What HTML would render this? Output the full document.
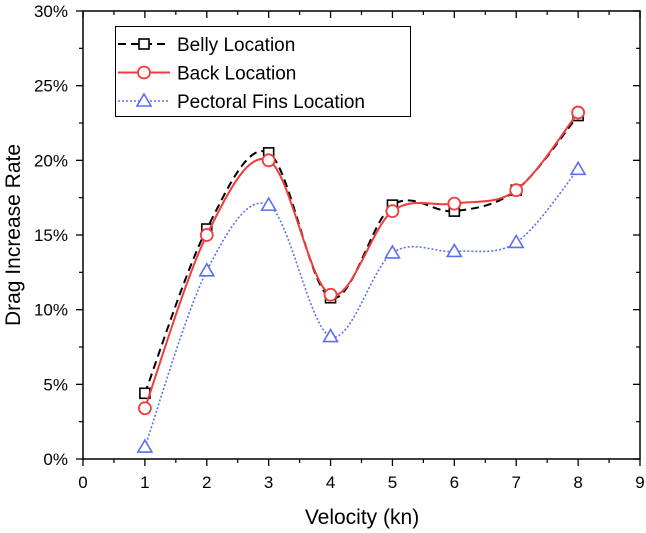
<!DOCTYPE html>
<html><head><meta charset="utf-8"><style>
html,body{margin:0;padding:0;background:#fff}
svg{display:block;font-family:"Liberation Sans",Arial,sans-serif}
</style></head><body>
<svg id="chart" width="646" height="533" viewBox="0 0 646 533" xmlns="http://www.w3.org/2000/svg">
<g id="axes"></g><g id="series"></g>
<text x="362" y="524" font-size="21" text-anchor="middle">Velocity (kn)</text>
<text transform="translate(20,235) rotate(-90)" font-size="21" text-anchor="middle">Drag Increase Rate</text>
<g>
<rect x="115.5" y="26.5" width="295" height="90" fill="#fff" stroke="#000" stroke-width="1"/>
<g>
<line x1="118" y1="44" x2="170" y2="44" stroke="#000" stroke-width="2" stroke-dasharray="8,5"/>
<rect x="139" y="39" width="10" height="10" fill="#fff" stroke="#000" stroke-width="1.6"/>
<text x="177" y="51" font-size="19">Belly Location</text></g>
<g>
<line x1="118" y1="72.5" x2="170" y2="72.5" stroke="#f03c3c" stroke-width="2"/>
<circle cx="144" cy="72.5" r="6" fill="#fff" stroke="#f03c3c" stroke-width="1.8"/>
<text x="177" y="79.5" font-size="19">Back Location</text></g>
<g>
<line x1="118" y1="101" x2="170" y2="101" stroke="#5b6ff5" stroke-width="1.6" stroke-dasharray="2,2"/>
<path d="M144,94 L151,106 L137,106 Z" fill="#fff" stroke="#5b6ff5" stroke-width="1.6"/>
<text x="177" y="108" font-size="19">Pectoral Fins Location</text></g>
</g>
</svg>
<script>
const velocities=[1,2,3,4,5,6,7,8];
const belly=[4.4,15.4,20.5,10.8,17.0,16.6,18.0,23.0];
const back=[3.4,15.0,20.0,11.0,16.6,17.1,18.0,23.2];
const pectoral=[0.8,12.6,17.0,8.2,13.8,13.9,14.5,19.4];
const xTicks=[0,1,2,3,4,5,6,7,8,9];
const yTicks=[0,5,10,15,20,25,30];

const X0=83,X1=640,Y0=459,Y1=11;
const sx=v=>X0+(v-0)/(9-0)*(X1-X0);
const sy=v=>Y0-(v-0)/(30-0)*(Y0-Y1);
const NS='http://www.w3.org/2000/svg';
function mk(t,a,p){const e=document.createElementNS(NS,t);for(const k in a)e.setAttribute(k,a[k]);p.appendChild(e);return e;}
const axes=document.getElementById('axes');
const frame=mk('rect',{x:X0,y:Y1,width:X1-X0,height:Y0-Y1,fill:'none',stroke:'#000','stroke-width':1.5},axes);


for(let i=0;i<xTicks.length;i++){
  const v=xTicks[i],x=sx(v);
  mk('line',{x1:x,y1:Y0,x2:x,y2:Y0+7,stroke:'#000','stroke-width':1.3},axes);
  mk('line',{x1:x,y1:Y1,x2:x,y2:Y1+7,stroke:'#000','stroke-width':1.3},axes);
  if(i<xTicks.length-1){const xm=sx(v+0.5);
    mk('line',{x1:xm,y1:Y0,x2:xm,y2:Y0+4,stroke:'#000','stroke-width':1.2},axes);
    mk('line',{x1:xm,y1:Y1,x2:xm,y2:Y1+4,stroke:'#000','stroke-width':1.2},axes);}
  const t=mk('text',{x:x,y:Y0+29,'font-size':17,'text-anchor':'middle'},axes);t.textContent=v;
  
  
}
for(let i=0;i<yTicks.length;i++){
  const v=yTicks[i],y=sy(v);
  mk('line',{x1:X0,y1:y,x2:X0-7,y2:y,stroke:'#000','stroke-width':1.3},axes);
  mk('line',{x1:X1,y1:y,x2:X1-7,y2:y,stroke:'#000','stroke-width':1.3},axes);
  if(i<yTicks.length-1){const ym=sy(v+2.5);
    mk('line',{x1:X0,y1:ym,x2:X0-4,y2:ym,stroke:'#000','stroke-width':1.2},axes);
    mk('line',{x1:X1,y1:ym,x2:X1-4,y2:ym,stroke:'#000','stroke-width':1.2},axes);}
  const t=mk('text',{x:X0-15,y:y+6,'font-size':17,'text-anchor':'end'},axes);t.textContent=v+'%';
  
  
}
function spline(pts){
  let d='M'+pts[0][0]+','+pts[0][1];
  for(let i=0;i<pts.length-1;i++){
    const p0=pts[Math.max(0,i-1)],p1=pts[i],p2=pts[i+1],p3=pts[Math.min(pts.length-1,i+2)];
    const c1=[p1[0]+(p2[0]-p0[0])/6,p1[1]+(p2[1]-p0[1])/6];
    const c2=[p2[0]-(p3[0]-p1[0])/6,p2[1]-(p3[1]-p1[1])/6];
    d+=' C'+c1+' '+c2+' '+p2;
  }
  return d;
}
const ser=document.getElementById('series');
function draw(vals,name,color,dash,w,marker){
  const g=mk('g',{},ser);
  
  
  const pts=vals.map((v,i)=>[sx(velocities[i]),sy(v)]);
  mk('path',{d:spline(pts),fill:'none',stroke:color,'stroke-width':w,'stroke-dasharray':dash},g);
  pts.forEach(([x,y])=>{
    let m;
    if(marker==='sq')m=mk('rect',{x:x-5,y:y-5,width:10,height:10,fill:'#fff',stroke:color,'stroke-width':1.6},g);
    else if(marker==='c')m=mk('circle',{cx:x,cy:y,r:6,fill:'#fff',stroke:color,'stroke-width':1.8},g);
    else m=mk('path',{d:`M${x},${y-7} L${x+7},${y+5} L${x-7},${y+5} Z`,fill:'#fff',stroke:color,'stroke-width':1.6},g);
    
    
  });
}
draw(belly,'belly-series','#000','8,5',2,'sq');
draw(back,'back-series','#f03c3c','none',2,'c');
draw(pectoral,'pectoral-series','#5b6ff5','2,2',1.6,'tri');
</script>
</body></html>
